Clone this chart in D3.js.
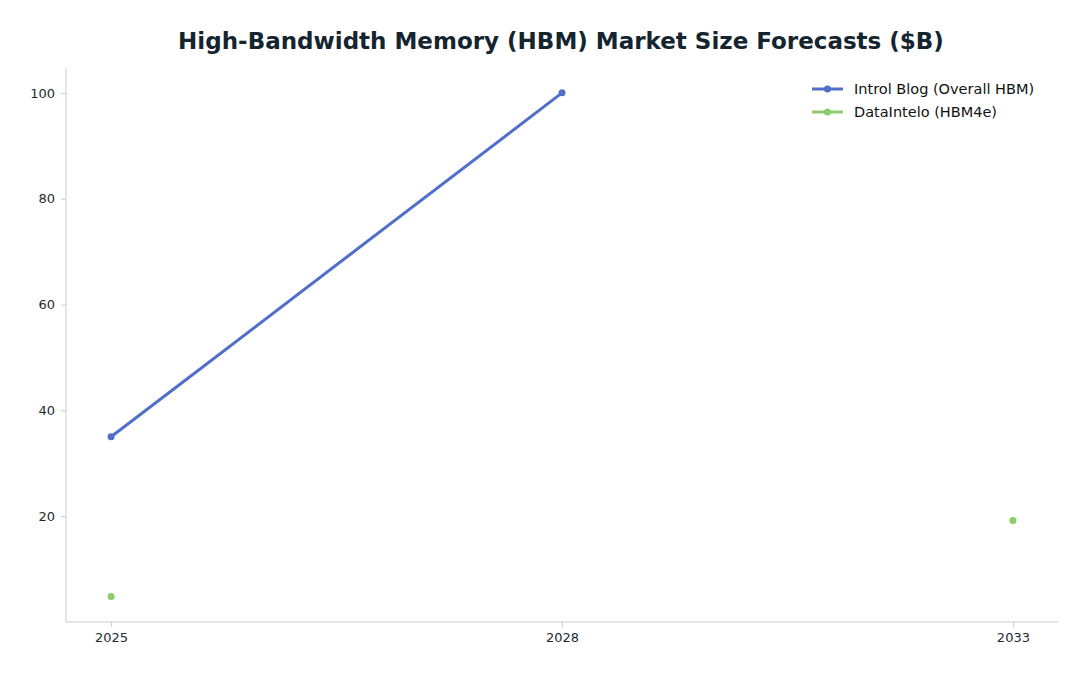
<!DOCTYPE html>
<html><head><meta charset="utf-8">
<script src="https://cdn.jsdelivr.net/npm/d3@7"></script>
<style>body{margin:0;background:#fff;font-family:"DejaVu Sans",sans-serif}</style>
</head><body><div id="chart"></div>
<script>
const years = ["2025", "2028", "2033"];
const introlValues = [35, 100, null];
const datainteloValues = [4.8, null, 19.2];
const yTicks = [20, 40, 60, 80, 100];
const seriesNames = ["Introl Blog (Overall HBM)", "DataIntelo (HBM4e)"];
const seriesColors = ["#4f6fc8", "#8ccc6a"];

const width = 1088, height = 676;
const m = {top: 68, right: 30, bottom: 54, left: 66};

const svg = d3.select("#chart").append("svg").attr("width", width).attr("height", height);

svg.append("text").attr("x", 561).attr("y", 49).attr("text-anchor", "middle")
  .style("font-size", "23px").style("font-weight", "bold").style("fill", "#15252f")
  .text("High-Bandwidth Memory (HBM) Market Size Forecasts ($B)");

const x = d3.scalePoint().domain(years).range([m.left, width - m.right]).padding(0.1);
const y = d3.scaleLinear().domain([0, 104.7]).range([height - m.bottom, m.top]);

// axes
const xa = svg.append("g").attr("transform", `translate(0,${height - m.bottom})`)
  .call(d3.axisBottom(x).tickSize(5).tickPadding(6));
const ya = svg.append("g").attr("transform", `translate(${m.left},0)`)
  .call(d3.axisLeft(y).tickValues(yTicks).tickSize(5).tickPadding(6));
[xa, ya].forEach(a => {
  a.select(".domain").attr("stroke", "#cccccc");
  a.selectAll(".tick line").attr("stroke", "#cccccc");
  a.selectAll("text").style("font-size", "13px").style("fill", "#1f2a33").style("font-family", "DejaVu Sans, sans-serif");
});
xa.select(".domain").attr("d", `M${m.left},0H${width - m.right}`);
ya.select(".domain").attr("d", `M0,${y(0)}V${m.top}`);

[introlValues, datainteloValues].forEach((vals, i) => {
  const pts = years.map((yr, j) => ({yr, v: vals[j]}));
  const line = d3.line().defined(d => d.v != null).x(d => x(d.yr)).y(d => y(d.v));
  svg.append("path").datum(pts).attr("d", line).attr("fill", "none")
    .attr("stroke", seriesColors[i]).attr("stroke-width", 3);
  svg.append("g").selectAll("circle").data(pts.filter(d => d.v != null)).join("circle")
    .attr("cx", d => x(d.yr)).attr("cy", d => y(d.v)).attr("r", 3.5).attr("fill", seriesColors[i]);
});

// legend
const lg = svg.append("g").attr("transform", "translate(812,89)");
seriesNames.forEach((n, i) => {
  const g = lg.append("g").attr("transform", `translate(0,${i * 23})`);
  g.append("line").attr("x1", 0).attr("x2", 31).attr("stroke", seriesColors[i]).attr("stroke-width", 3);
  g.append("circle").attr("cx", 15.5).attr("r", 3.5).attr("fill", seriesColors[i]);
  g.append("text").attr("x", 42).attr("y", 5).style("font-size", "14.5px").style("fill", "#111").text(n);
});
</script></body></html>
